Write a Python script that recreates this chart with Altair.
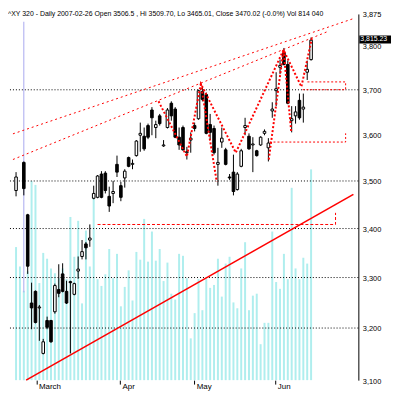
import altair as alt
import pandas as pd

FONT = "Liberation Sans"

# ---------------- values ----------------
title_text = "^XY 320 - Daily 2007-02-26 Open 3506.5 , Hi 3509.70, Lo 3465.01, Close 3470.02 (-0.0%) Vol 814 040"
last_price = [3815.23]
last_label = ["3,815.23"]

bar_idx = [0, 2, 3, 4, 5, 6, 7, 8, 9, 10, 11, 12, 13, 14, 15, 16, 17, 18, 19, 20,
           21, 22, 23, 24, 25, 26, 27, 28, 29, 30, 31, 32, 33, 34, 35, 36, 37, 38, 39, 40,
           41, 42, 43, 44, 45, 46, 47, 48, 49, 50, 51, 52, 53, 54, 55, 56, 57, 58, 59, 60,
           61, 62, 63, 64, 65, 66, 67, 68, 69, 70, 71, 72, 73, 74, 75, 76]
open_ = [3479.7, 3539.8, 3428.6, 3249.1, 3272.3, 3239.5, 3150.9, 3214.7, 3214.7, 3231.9,
         3276.1, 3307.3, 3272.3, 3291.7, 3266.4, 3313.1, 3342.6, 3368.3, 3376.3, 3463.3,
         3465.3, 3514.8, 3516.8, 3467.4, 3473.5, 3535.6, 3490.0, 3506.5, 3550.3, 3535.6,
         3554.5, 3598.9, 3596.7, 3620.2, 3654.7, 3615.9, 3641.7, 3575.6, 3615.9, 3669.8,
         3656.8, 3594.6, 3615.9, 3560.8, 3588.3, 3620.2, 3635.3, 3695.9, 3689.3, 3622.4,
         3613.8, 3535.6, 3584.0, 3567.1, 3508.5, 3518.9, 3481.7, 3531.4, 3615.9, 3596.7,
         3577.7, 3565.0, 3577.7, 3603.1, 3571.4, 3652.6, 3698.0, 3751.0, 3784.3, 3757.5,
         3631.0, 3641.7, 3676.3, 3656.8, 3739.8, 3768.7]
high = [3518.9, 3541.9, 3430.6, 3289.7, 3274.2, 3245.3, 3178.9, 3222.3, 3216.0, 3287.8,
        3326.8, 3328.8, 3293.6, 3293.6, 3289.7, 3342.6, 3376.3, 3372.3, 3408.5, 3490.0,
        3512.7, 3521.0, 3521.0, 3487.9, 3500.3, 3554.5, 3498.2, 3525.2, 3552.4, 3546.1,
        3588.3, 3626.7, 3615.9, 3624.5, 3661.1, 3631.0, 3646.0, 3588.3, 3659.0, 3674.1,
        3661.1, 3615.9, 3620.2, 3573.5, 3605.2, 3626.7, 3700.2, 3706.8, 3693.7, 3646.0,
        3620.2, 3571.4, 3615.9, 3571.4, 3514.8, 3556.6, 3518.9, 3569.2, 3637.4, 3603.1,
        3594.6, 3567.1, 3596.7, 3611.7, 3592.5, 3672.0, 3739.8, 3768.7, 3795.5, 3766.4,
        3663.3, 3663.3, 3691.5, 3691.5, 3766.4, 3820.0]
low = [3467.4, 3469.4, 3307.3, 3197.7, 3209.0, 3175.2, 3149.0, 3197.7, 3171.4, 3228.1,
       3260.6, 3270.3, 3247.2, 3150.9, 3264.5, 3297.5, 3336.7, 3336.7, 3362.4, 3461.2,
       3463.3, 3463.3, 3473.5, 3434.7, 3453.0, 3508.5, 3457.1, 3485.9, 3529.4, 3525.2,
       3552.4, 3562.9, 3565.0, 3590.4, 3598.9, 3592.5, 3620.2, 3573.5, 3613.8, 3631.0,
       3592.5, 3567.1, 3565.0, 3546.1, 3560.8, 3607.4, 3633.1, 3674.1, 3601.0, 3588.3,
       3556.6, 3490.0, 3571.4, 3533.5, 3502.3, 3469.4, 3479.7, 3529.4, 3598.9, 3567.1,
       3518.9, 3552.4, 3575.6, 3598.9, 3541.9, 3637.4, 3663.3, 3735.4, 3755.3, 3667.6,
       3605.2, 3624.5, 3633.1, 3626.7, 3722.2, 3766.4]
close = [3508.5, 3483.8, 3322.9, 3239.5, 3210.9, 3241.3, 3173.3, 3201.5, 3173.3, 3283.9,
         3268.4, 3272.3, 3249.1, 3289.7, 3287.8, 3317.0, 3352.5, 3360.4, 3380.4, 3473.5,
         3510.6, 3465.3, 3479.7, 3447.0, 3477.6, 3518.9, 3465.3, 3521.0, 3531.4, 3537.7,
         3586.2, 3603.1, 3569.2, 3594.6, 3637.4, 3622.4, 3624.5, 3577.7, 3654.7, 3641.7,
         3594.6, 3577.7, 3567.1, 3562.9, 3592.5, 3613.8, 3698.0, 3678.5, 3603.1, 3605.2,
         3560.8, 3539.8, 3592.5, 3535.6, 3506.5, 3477.6, 3514.8, 3565.0, 3620.2, 3569.2,
         3579.8, 3554.5, 3594.6, 3607.4, 3581.9, 3656.8, 3702.4, 3755.3, 3757.5, 3669.8,
         3635.3, 3650.4, 3637.4, 3661.1, 3746.4, 3813.5]

vol_idx = [i for i in range(77)]
volume = [137, 117, 92, 112, 205, 201, 100, 131, 125, 115,
          110, 105, 115, 104, 168, 127, 164, 79, 154, 117,
          189, 104, 97, 109, 135, 105, 130, 76, 96, 113,
          82, 132, 124, 166, 122, 153, 123, 135, 102, 121,
          89, 83, 130, 128, 105, 43, 69, 104, 72, 104,
          95, 98, 125, 86, 120, 127, 80, 74, 115, 142,
          72, 87, 89, 37, 59, 59, 153, 101, 94, 130,
          104, 198, 115, 104, 126, 120, 217]
volume_max = 377

grid_levels = [3200, 3300, 3400, 3500, 3700]
axis_levels = [3100, 3200, 3300, 3400, 3500, 3600, 3700, 3800, 3875]
price_domain = [3100, 3875]
x_domain = [-0.8, 86.9]
month_ticks = [5.25, 26.8, 45.9, 66.8]
month_names = ["March", "Apr", "May", "Jun"]

cursor_idx = [2]
cursor_top = [3856.6]
cursor_bottom = [3270.3]

trend_idx = [2.6, 86.9]
trend_price = [3100.0, 3471.5]
upper_a_idx = [-0.8, 80.3]
upper_a_price = [3546.1, 3833.8]
upper_b_idx = [-0.8, 86.9]
upper_b_price = [3602.0, 3864.0]

zigzag_idx = [36.7, 44.0, 47.6, 56.6, 68.9, 73.5, 76.2]
zigzag_price = [3674.1, 3552.4, 3713.4, 3560.8, 3791.0, 3706.8, 3818.0]

zz2_seg = [1, 1, 2, 2, 2]
zz2_idx = [47.6, 51.7, 65.1, 68.9, 70.9]
zz2_price = [3713.4, 3498.2, 3546.1, 3791.0, 3605.2]

bracket_seg = [1, 1, 1, 1, 2, 2, 2]
bracket_idx = [73.8, 84.9, 84.9, 74.7, 65.3, 84.9, 84.9]
bracket_price = [3700.2, 3700.2, 3717.8, 3717.8, 3584.0, 3584.0, 3603.1]

support_idx = [21.0, 82.3, 82.3]
support_price = [3408.4, 3408.4, 3432.7]

# ---------------- frames ----------------
candles = pd.DataFrame({"idx": bar_idx, "open": open_, "high": high, "low": low, "close": close})
vol_df = pd.DataFrame({"idx": vol_idx, "vol": volume})
grid_df = pd.DataFrame({"level": grid_levels})
cursor_df = pd.DataFrame({"idx": cursor_idx, "top": cursor_top, "bottom": cursor_bottom})
trend_df = pd.DataFrame({"idx": trend_idx, "price": trend_price})
ua_df = pd.DataFrame({"idx": upper_a_idx, "price": upper_a_price})
ub_df = pd.DataFrame({"idx": upper_b_idx, "price": upper_b_price})
zz_df = pd.DataFrame({"idx": zigzag_idx, "price": zigzag_price, "ord": list(range(len(zigzag_idx)))})
zz2_df = pd.DataFrame({"seg": zz2_seg, "idx": zz2_idx, "price": zz2_price, "ord": list(range(len(zz2_idx)))})
br_df = pd.DataFrame({"seg": bracket_seg, "idx": bracket_idx, "price": bracket_price,
                      "ord": list(range(len(bracket_idx)))})
sup_df = pd.DataFrame({"idx": support_idx, "price": support_price, "ord": list(range(len(support_idx)))})
last_df = pd.DataFrame({"price": last_price, "label": last_label})
title_df = pd.DataFrame({"t": [title_text]})

W, H = 354, 370

xscale = alt.Scale(domain=x_domain, nice=False, zero=False)
yscale = alt.Scale(type="log", domain=price_domain, nice=False)

label_expr = "[{}][indexof([{}], datum.value)]".format(
    ",".join("'" + m + "'" for m in month_names), ",".join(str(v) for v in month_ticks))

xaxis = alt.Axis(values=month_ticks, labelExpr=label_expr, domain=False, grid=False,
                 ticks=True, tickColor="black", tickSize=4, labelAlign="left",
                 labelBaseline="top", labelFont=FONT, labelFontSize=8, labelColor="black",
                 labelPadding=-2, labelOffset=2, labelFlush=False, labelOverlap=False, title=None)
yaxis = alt.Axis(orient="right", values=axis_levels, format=",", grid=False, ticks=False,
                 domain=True, domainColor="black", domainWidth=1, labelFont=FONT,
                 labelFontSize=7.5, labelColor="black", labelPadding=4, labelOffset=1,
                 labelOverlap=False, labelFlush=False, title=None)


def X(field):
    return alt.X(field, type="quantitative", scale=xscale, axis=xaxis)


def Y(field):
    return alt.Y(field, type="quantitative", scale=yscale, axis=yaxis)


vol_chart = alt.Chart(vol_df).mark_bar(size=2, color="#afeeee").encode(
    x=X("idx"),
    y=alt.Y("vol:Q", scale=alt.Scale(domain=[0, volume_max], nice=False), axis=None),
)

grid = alt.Chart(grid_df).mark_rule(color="black", strokeDash=[1, 2], strokeWidth=1).encode(
    y=Y("level"))

cursor = alt.Chart(cursor_df).mark_rule(color="#a9a9f0", strokeWidth=1).encode(
    x=X("idx"), y=Y("top"), y2="bottom")

wick = alt.Chart(candles).mark_rule(color="black", strokeWidth=1).encode(
    x=X("idx"), y=Y("low"), y2="high")

body = alt.Chart(candles).transform_calculate(
    body_lo="min(datum.open, datum.close)",
    body_hi="max(datum.open, datum.close)",
).mark_bar(size=2.6, stroke="black", strokeWidth=1).encode(
    x=X("idx"), y=Y("body_lo"), y2="body_hi:Q",
    fill=alt.condition("datum.close >= datum.open", alt.value("white"), alt.value("black")),
)

trend = alt.Chart(trend_df).mark_line(color="#ff0000", strokeWidth=1.6).encode(
    x=X("idx"), y=Y("price"))
upper_a = alt.Chart(ua_df).mark_line(color="#ff0000", strokeWidth=1, strokeDash=[2, 3]).encode(
    x=X("idx"), y=Y("price"))
upper_b = alt.Chart(ub_df).mark_line(color="#ff0000", strokeWidth=1, strokeDash=[2, 3]).encode(
    x=X("idx"), y=Y("price"))
zigzag = alt.Chart(zz_df).mark_line(color="#ff0000", strokeWidth=2, strokeDash=[2, 2]).encode(
    x=X("idx"), y=Y("price"), order="ord:Q")
zigzag2 = alt.Chart(zz2_df).mark_line(color="#ff0000", strokeWidth=2, strokeDash=[2, 2]).encode(
    x=X("idx"), y=Y("price"), detail="seg:N", order="ord:Q")
brackets = alt.Chart(br_df).mark_line(color="#ff0000", strokeWidth=1, strokeDash=[2, 2]).encode(
    x=X("idx"), y=Y("price"), detail="seg:N", order="ord:Q")
support = alt.Chart(sup_df).mark_line(color="#ff0000", strokeWidth=1, strokeDash=[3, 2]).encode(
    x=X("idx"), y=Y("price"), order="ord:Q")

box = alt.Chart(last_df).mark_rule(color="black", strokeWidth=8, strokeCap="butt").encode(
    x=alt.value(W + 1), x2=alt.value(W + 33), y=Y("price"))
box_text = alt.Chart(last_df).mark_text(color="white", align="left", baseline="middle",
                                        font=FONT, fontSize=7, dy=-0.5).encode(
    x=alt.value(W + 2), y=Y("price"), text="label:N")

title = alt.Chart(title_df).mark_text(align="left", baseline="top", font=FONT, fontSize=7,
                                      color="black").encode(
    x=alt.value(0), y=alt.value(-4), text="t:N")

price = alt.layer(grid, cursor, wick, body, trend, upper_a, upper_b, zigzag, zigzag2,
                  brackets, support, box, box_text, title)

chart = alt.layer(vol_chart, price).resolve_scale(y="independent").properties(
    width=W, height=H,
    autosize=alt.AutoSizeParams(type="none"),
    padding={"left": 0, "top": 4, "right": 34, "bottom": 12},
    background="white",
).configure_view(strokeOpacity=0)

chart.save("out.html", embed_options={"renderer": "svg", "actions": False})
